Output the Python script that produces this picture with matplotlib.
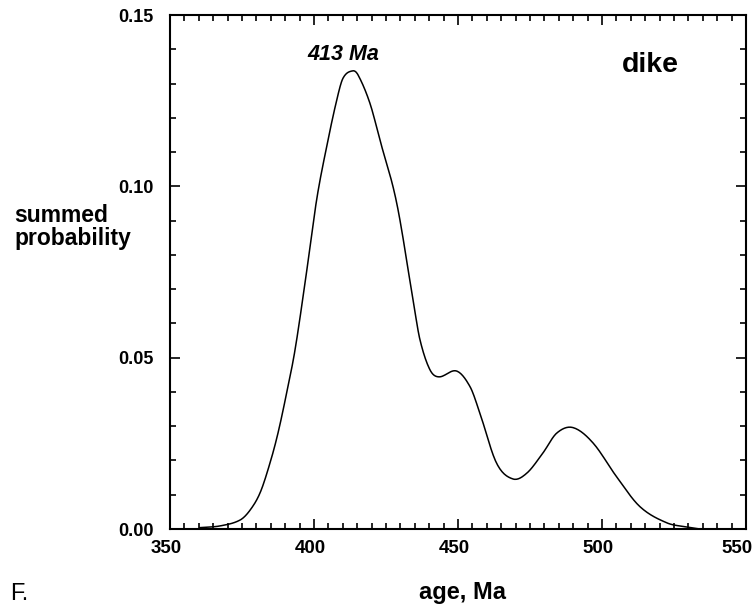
import matplotlib
matplotlib.use("Agg")
import matplotlib.pyplot as plt
from matplotlib.ticker import MultipleLocator, FixedLocator
from matplotlib.transforms import ScaledTranslation
import numpy as np

plt.rcParams['font.family'] = ['Liberation Sans', 'DejaVu Sans']

age = [360.4, 367.4, 374.3, 377.8, 381.3, 384.7, 387.5, 390.5, 393.4, 397.0,
       400.9, 404.4, 407.9, 410.1, 413.4, 415.3, 419.4, 422.9, 428.7,
       434.4, 436.8, 440.3, 443.4, 449.5, 454.2, 457.6, 463.4, 469.1, 473.9,
       479.5, 484.3, 489.9, 496.9, 505.1, 513.2, 522.5, 529.4, 534.0]
prob = [0.0004, 0.0009, 0.0026, 0.0055, 0.0106, 0.0192, 0.0280, 0.0397, 0.0522, 0.0725,
        0.0960, 0.1116, 0.1252, 0.1316, 0.1337, 0.1325, 0.1243, 0.1135, 0.0952,
        0.0668, 0.0552, 0.0464, 0.0444, 0.0461, 0.0415, 0.0338, 0.0192, 0.0146, 0.0163,
        0.0222, 0.0280, 0.0296, 0.0251, 0.0152, 0.0065, 0.0018, 0.0006, 0.0]

xticks = [350, 400, 450, 500, 550]
yticks = [0.00, 0.05, 0.10, 0.15]
ytick_labels = ["0.00", "0.05", "0.10", "0.15"]

fig = plt.figure(figsize=(7.56, 6.04), dpi=100)
ax = fig.add_axes([170/756, 1-529/604, 576/756, 514/604])


def hermite(x, y, n=15):
    x = np.asarray(x, float); y = np.asarray(y, float)
    m = np.zeros_like(y)
    m[1:-1] = (y[2:] - y[:-2]) / (x[2:] - x[:-2])
    m[0] = (y[1] - y[0]) / (x[1] - x[0])
    m[-1] = (y[-1] - y[-2]) / (x[-1] - x[-2])
    ox, oy = [], []
    for i in range(len(x) - 1):
        h = x[i+1] - x[i]
        t = np.linspace(0, 1, n, endpoint=False)
        h00 = 2*t**3 - 3*t**2 + 1
        h10 = t**3 - 2*t**2 + t
        h01 = -2*t**3 + 3*t**2
        h11 = t**3 - t**2
        ox.extend(x[i] + t*h)
        oy.extend(h00*y[i] + h10*h*m[i] + h01*y[i+1] + h11*h*m[i+1])
    ox.append(x[-1]); oy.append(y[-1])
    return np.array(ox), np.array(oy)


sx, sy = hermite(age, prob)
sy = np.clip(sy, 0, None)
ax.plot(sx, sy, color='black', lw=1.1)

ax.set_xlim(350, 550)
ax.set_ylim(0, 0.15)
ax.xaxis.set_major_locator(FixedLocator(xticks))
ax.yaxis.set_major_locator(FixedLocator(yticks))
ax.xaxis.set_minor_locator(MultipleLocator(5))
ax.yaxis.set_minor_locator(MultipleLocator(0.01))
ax.set_xticklabels([str(v) for v in xticks], fontsize=13.5, fontweight='bold')
ax.set_yticklabels(ytick_labels, fontsize=13, fontweight='bold')
ax.tick_params(which='both', direction='in', top=True, right=True, width=1.2)
ax.tick_params(which='major', length=7)
ax.tick_params(axis='x', which='major', pad=8)
ax.tick_params(axis='y', which='major', pad=12)
ax.tick_params(which='minor', length=4)
for i, lab in enumerate(ax.get_xticklabels()):
    dx = -4/100 if i < len(xticks) - 1 else -9/100
    lab.set_transform(lab.get_transform() + ScaledTranslation(dx, 0, fig.dpi_scale_trans))
for s in ax.spines.values():
    s.set_linewidth(1.5)

fig.text(14/756, 1-227/604, "summed\nprobability", fontsize=16.5, fontweight='bold',
         ha='left', va='center', linespacing=1.05)
fig.text(462/756, 1-592/604, "age, Ma", fontsize=17, fontweight='bold', ha='center', va='center')
fig.text(10/756, 1-594/604, "F.", fontsize=17, ha='left', va='center')
ax.text(410.1, 0.1369, "413 Ma", fontsize=15.5, fontweight='bold', style='italic',
        ha='center', va='baseline')
ax.text(516.7, 0.1334, "dike", fontsize=20.5, fontweight='bold', ha='center', va='baseline')

fig.savefig("out.png", dpi=100)
